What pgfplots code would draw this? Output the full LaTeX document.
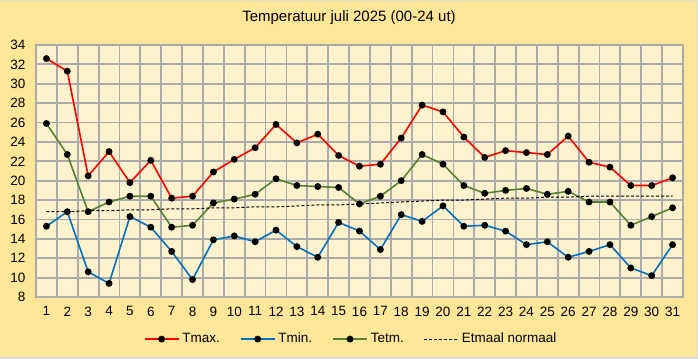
\documentclass[border=0pt]{standalone}
\usepackage{pgfplots}
\pgfplotsset{compat=1.18}
\usepackage{pgfplotstable}
\usepackage{fontspec}
\setmainfont{Liberation Sans}
\definecolor{bgout}{HTML}{FFE699}
\definecolor{bgin}{HTML}{FFF2CC}
\definecolor{gridc}{HTML}{ABABAB}
\definecolor{tmaxc}{HTML}{FF0000}
\definecolor{tminc}{HTML}{0070C0}
\definecolor{tetmc}{HTML}{548235}
\pgfplotstableread{
day tmax tmin tetm norm
1 32.6 15.3 25.9 16.8
2 31.3 16.8 22.7 16.8
3 20.5 10.6 16.8 16.9
4 23.0 9.4 17.8 16.9
5 19.8 16.3 18.4 17.0
6 22.1 15.2 18.4 17.0
7 18.2 12.7 15.2 17.1
8 18.4 9.8 15.4 17.1
9 20.9 13.9 17.7 17.2
10 22.2 14.3 18.1 17.2
11 23.4 13.7 18.6 17.3
12 25.8 14.9 20.2 17.3
13 23.9 13.2 19.5 17.4
14 24.8 12.1 19.4 17.5
15 22.6 15.7 19.3 17.5
16 21.5 14.8 17.6 17.6
17 21.7 12.9 18.4 17.7
18 24.4 16.5 20.0 17.8
19 27.8 15.8 22.7 17.9
20 27.1 17.4 21.7 18.0
21 24.5 15.3 19.5 18.0
22 22.4 15.4 18.7 18.1
23 23.1 14.8 19.0 18.2
24 22.9 13.4 19.2 18.2
25 22.7 13.7 18.6 18.3
26 24.6 12.1 18.9 18.3
27 21.9 12.7 17.8 18.4
28 21.4 13.4 17.8 18.4
29 19.5 11.0 15.4 18.4
30 19.5 10.2 16.3 18.4
31 20.3 13.4 17.2 18.4
}\data
\begin{document}
\fontsize{13.5}{16}\selectfont
\begin{tikzpicture}
\useasboundingbox (0,0) rectangle (698pt,359pt);
\fill[gray!25] (0,0) rectangle (698pt,359pt);
\fill[bgout] (0,2pt) rectangle (697pt,358pt);
\fill[bgin] (36pt,62pt) rectangle (683pt,314pt);
\node[font=\fontsize{15}{18}\selectfont] at (349pt,341pt) {Temperatuur juli 2025 (00-24 ut)};
\begin{axis}[
  at={(36pt,62pt)}, anchor=south west,
  scale only axis, width=647pt, height=252pt,
  xmin=0.5, xmax=31.5, ymin=8, ymax=34,
  xtick={1,...,31}, ytick={8,10,...,34},
  axis line style={draw=gridc, line width=1.8pt},
  major tick length=0pt,
  tick label style={font=\fontsize{13.5}{16}\selectfont},
  /pgf/number format/assume math mode=true,
  yticklabel style={xshift=-6pt},
  xticklabel style={yshift=-5pt},
  legend columns=-1,
  legend style={at={(0.487,-0.167)}, anchor=center, draw=none, fill=none,
    font=\fontsize{13.5}{16}\selectfont,
    /tikz/every odd column/.append style={column sep=1pt},
    /tikz/every even column/.append style={column sep=18pt}},
  legend image code/.code={\draw[mark repeat=2,mark phase=2] plot coordinates {(0pt,0pt) (17pt,0pt) (34pt,0pt)};},
]
\pgfplotsinvokeforeach{1,...,30}{\draw[gridc, line width=1.8pt] (axis cs:#1.5,8) -- (axis cs:#1.5,34);}
\pgfplotsinvokeforeach{10,12,...,32}{\draw[gridc, line width=1.8pt] (axis cs:0.5,#1) -- (axis cs:31.5,#1);}
\addplot[tmaxc, line width=1.6pt, mark=*, mark size=2.6pt, mark options={black, fill=black}] table[x=day,y=tmax] {\data};
\addlegendentry{Tmax.}
\addplot[tminc, line width=1.6pt, mark=*, mark size=2.6pt, mark options={black, fill=black}] table[x=day,y=tmin] {\data};
\addlegendentry{Tmin.}
\addplot[tetmc, line width=1.6pt, mark=*, mark size=2.6pt, mark options={black, fill=black}] table[x=day,y=tetm] {\data};
\addlegendentry{Tetm.}
\addplot[black, line width=1pt, dash pattern=on 3pt off 2pt] table[x=day,y=norm] {\data};
\addlegendentry{Etmaal normaal}
\end{axis}
\end{tikzpicture}
\end{document}
